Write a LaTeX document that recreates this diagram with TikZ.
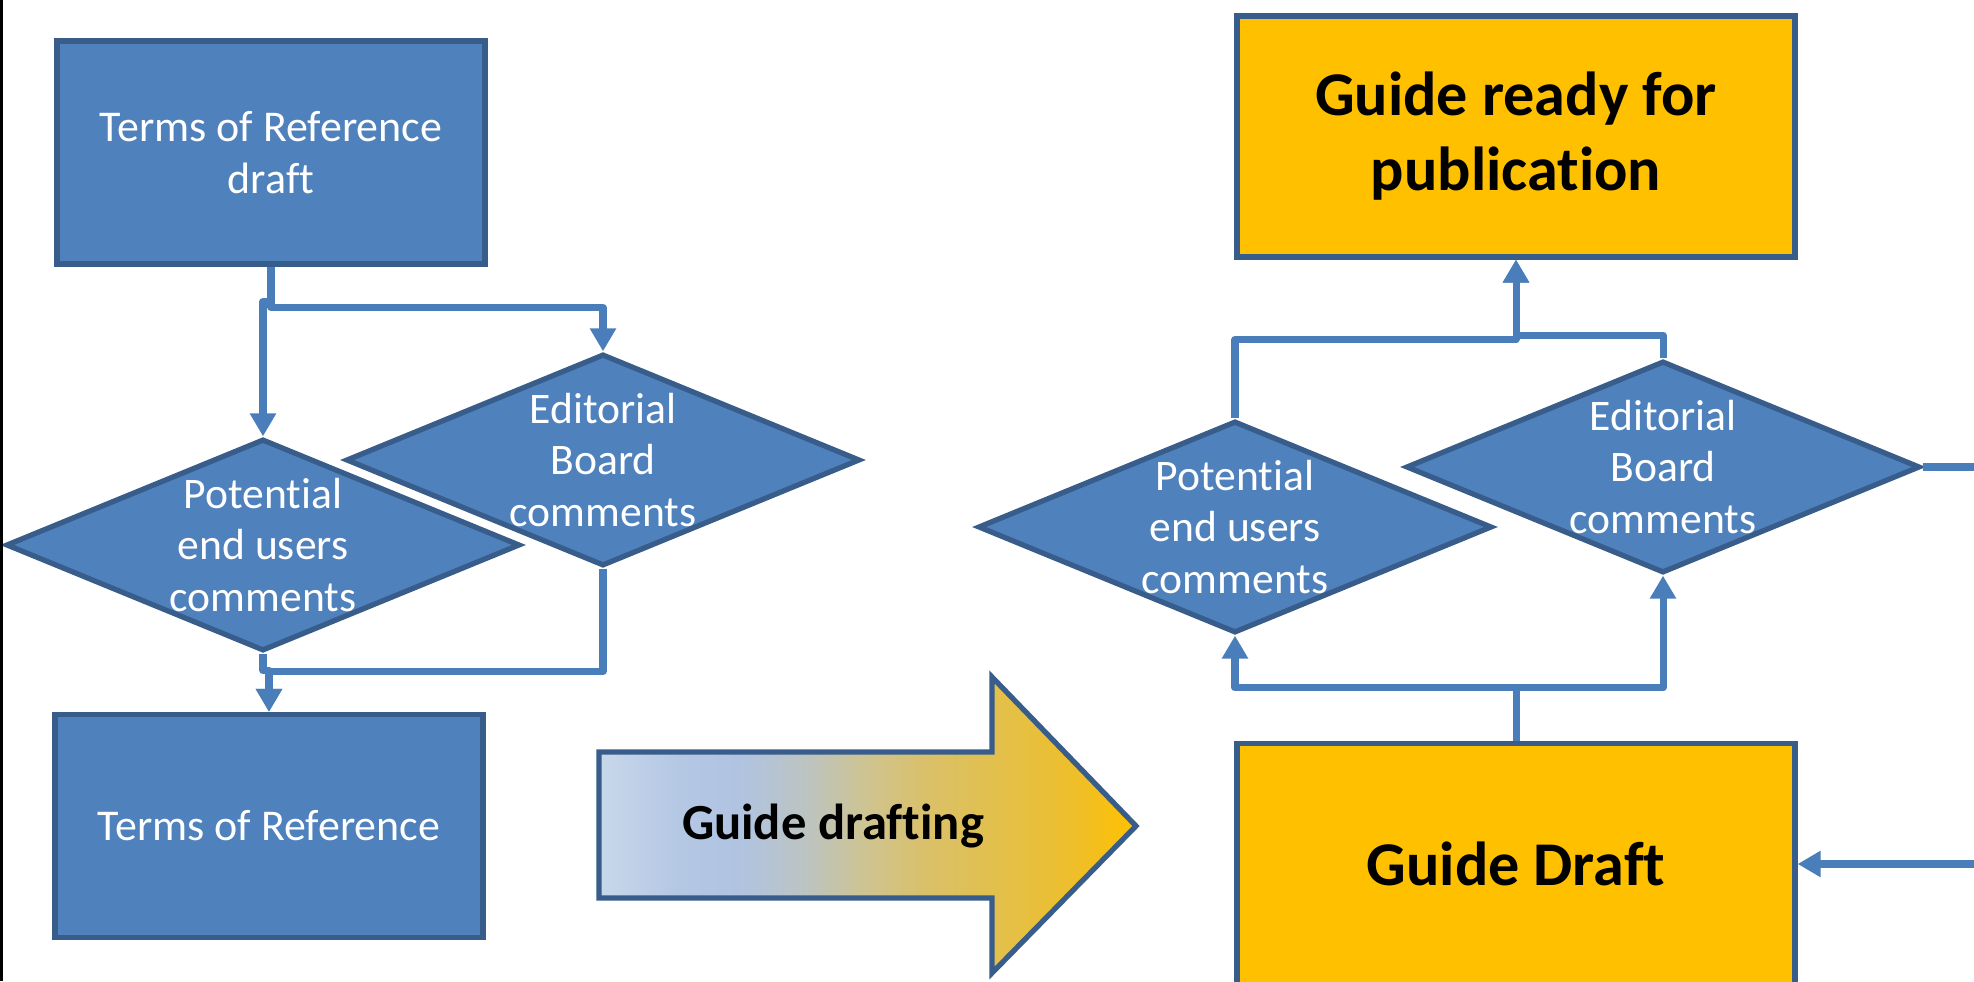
\documentclass[tikz,border=0pt]{standalone}
\usepackage{fontspec}
\setmainfont{Carlito}[Ligatures=NoCommon]
\usetikzlibrary{shapes.geometric,arrows.meta}

\definecolor{boxblue}{HTML}{4F81BD}
\definecolor{edgeblue}{HTML}{385D8A}
\definecolor{lineblue}{HTML}{4A7EBB}
\definecolor{gold}{HTML}{FFC000}
\definecolor{shA}{RGB}{200,216,235}
\definecolor{shB}{RGB}{180,199,227}
\definecolor{shC}{RGB}{176,196,226}
\definecolor{shD}{RGB}{189,196,192}
\definecolor{shE}{RGB}{207,196,144}
\definecolor{shF}{RGB}{217,192,108}
\definecolor{shG}{RGB}{225,192,80}
\definecolor{shH}{RGB}{238,191,44}

\pgfdeclarehorizontalshading{draftshade}{100bp}{color(0bp)=(shA); color(25bp)=(shA);
  color(32.5bp)=(shB); color(38bp)=(shC); color(44.5bp)=(shD); color(50bp)=(shE);
  color(55bp)=(shF); color(61bp)=(shG); color(69bp)=(shH); color(75bp)=(gold); color(100bp)=(gold)}

\begin{document}
\begin{tikzpicture}[
  bluebox/.style={rectangle, draw=edgeblue, fill=boxblue, line width=1.5pt, minimum width=4.28cm, minimum height=2.23cm, text=white, align=center, font=\fontsize{12.5}{14.7}\selectfont},
  goldbox/.style={rectangle, draw=edgeblue, fill=gold, line width=1.5pt, minimum width=5.58cm, minimum height=2.41cm, align=center, font=\bfseries\fontsize{17.7}{21.3}\selectfont},
  decision/.style={diamond, draw=edgeblue, fill=boxblue, line width=1.5pt, minimum width=5.14cm, minimum height=2.12cm, inner sep=0pt},
  decisiontext/.style={text=white, align=center, font=\fontsize{12.4}{14.7}\selectfont},
  flow/.style={draw=lineblue, line width=2pt, line join=round, -{Triangle[length=0.23cm,width=0.25cm]}}
]
\useasboundingbox (0,0) rectangle (19.74,9.81);
\clip (0,0) rectangle (19.74,9.81);

% terms of reference
\node[bluebox] (trd) at (2.71,8.285) {Terms of Reference\\draft};
\node[decision] (eb1) at (6.03,5.21) {};
\node[decisiontext] (eb1text) at (eb1) {Editorial\\Board\\comments};
\node[decision] (peu1) at (2.63,4.36) {};
\node[decisiontext] (peu1text) at (peu1) {Potential\\end users\\comments};
\node[bluebox] (tr) at (2.69,1.55) {Terms of Reference};

\draw[flow] (trd.south) -- ++(0,-0.35) -| (peu1.north);
\draw[flow] (trd.south) -- ++(0,-0.41) -| (eb1.north);
\draw[flow] (peu1.south) -- ++(0,-0.17) -| (tr.north);
\draw[flow] (eb1.south) -- ++(0,-1.03) -| (tr.north);

% drafting arrow
\shadedraw[shading=draftshade, draw=edgeblue, line width=1.5pt]
  (5.99,2.29) -- (9.92,2.29) -- (9.92,3.04) -- (11.36,1.55)
  -- (9.92,0.08) -- (9.92,0.83) -- (5.99,0.83) -- cycle;
\node[font=\bfseries\fontsize{14.4}{16}\selectfont] (drafting) at (8.33,1.55) {Guide drafting};

% guide
\node[goldbox] (grp) at (15.16,8.445) {Guide ready for\\publication};
\node[decision] (peu2) at (12.35,4.54) {};
\node[decisiontext] (peu2text) at (peu2) {Potential\\end users\\comments};
\node[decision] (eb2) at (16.63,5.14) {};
\node[decisiontext] (eb2text) at (eb2) {Editorial\\Board\\comments};
\node[goldbox] (gd) at (15.16,1.17) {Guide Draft};

\draw[flow] (peu2.north) -- ++(0,0.79) -| (grp.south);
\draw[flow] (eb2.north) -- ++(0,0.23) -| (grp.south);
\draw[flow] (gd.north) -- ++(0,0.53) -| (peu2.south);
\draw[flow] (gd.north) -- ++(0,0.53) -| (eb2.south);
\draw[flow] (eb2.east) -- ++(0.9,0) |- (gd.east);

\draw[line width=0.85pt] (0.015,0) -- (0.015,9.81);
\end{tikzpicture}
\end{document}
